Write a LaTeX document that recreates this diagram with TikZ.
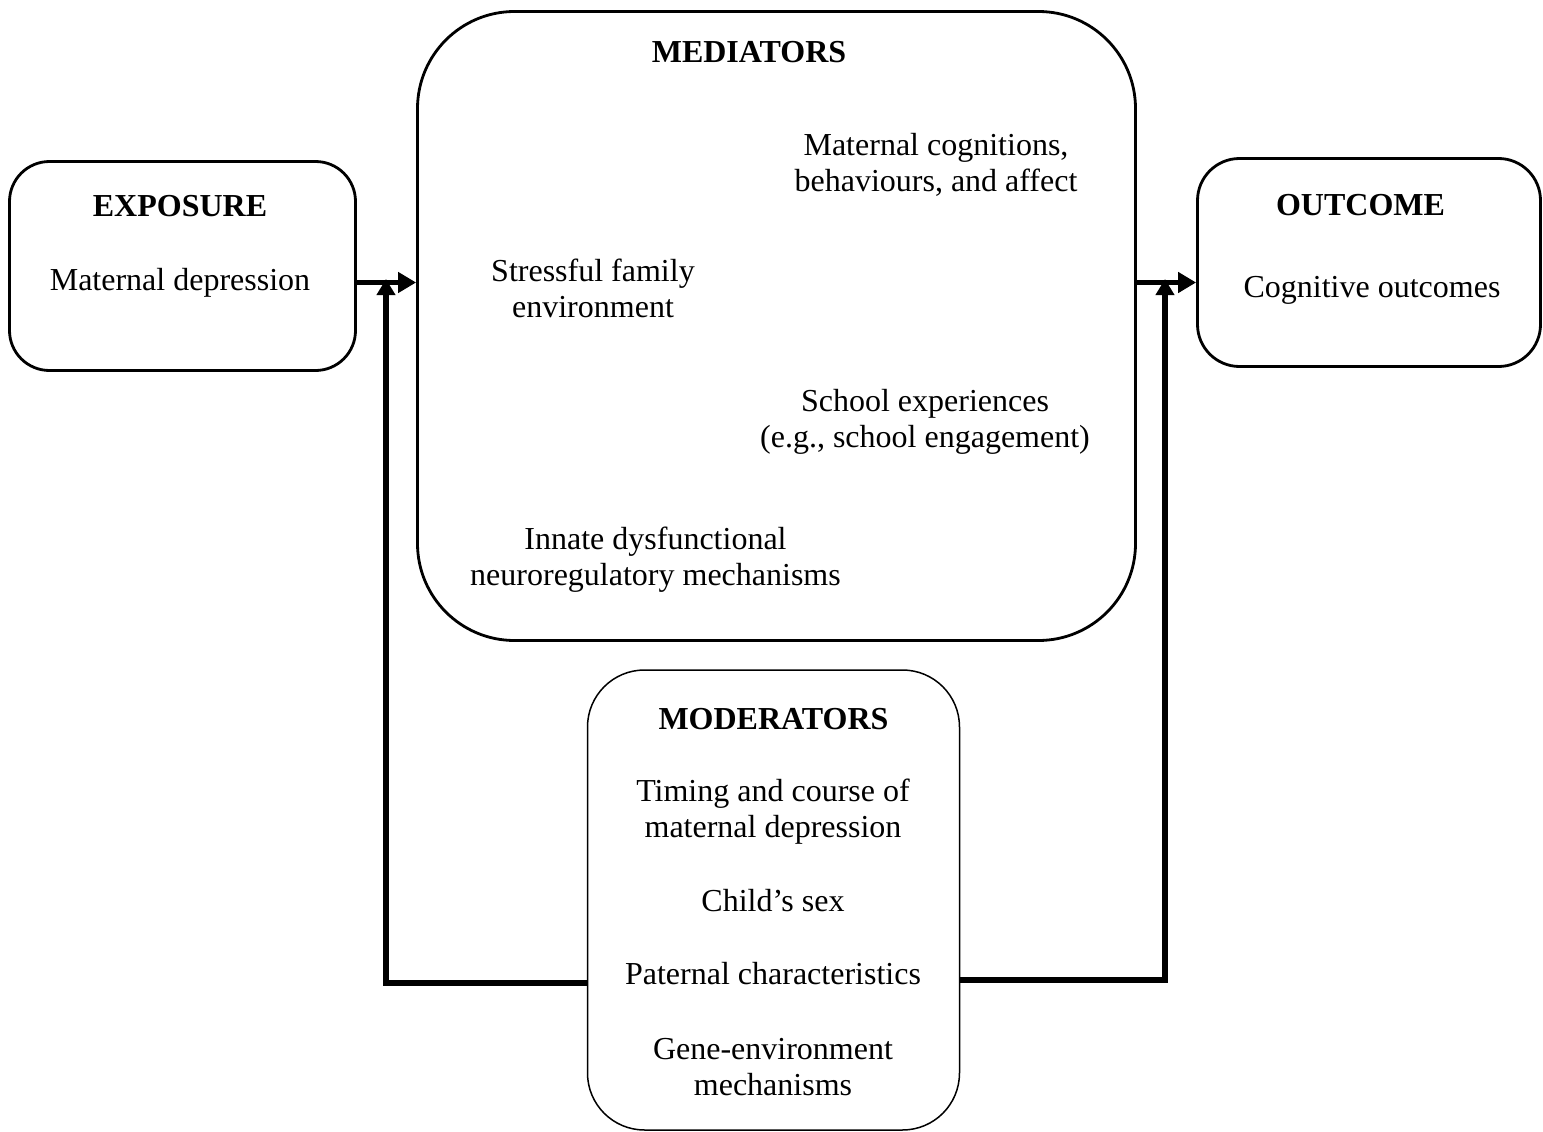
\documentclass[tikz,border=0pt]{standalone}
\usepackage{fontspec}
\setmainfont{Liberation Serif}
\usetikzlibrary{arrows.meta}
\tikzset{
  box/.style={draw, rectangle, inner sep=0pt, line width=2.8pt},
  lbl/.style={anchor=base, inner sep=0pt, font=\fontsize{32}{36}\selectfont},
  head/.style={lbl, font=\fontsize{32}{36}\selectfont\bfseries},
  conn/.style={line width=5.5pt},
  hat/.style={-{Triangle[length=18pt,width=20pt]}},
  vat/.style={-{Triangle[length=16pt,width=18pt]}}
}
\begin{document}
\begin{tikzpicture}[x=1pt,y=-1pt]
\useasboundingbox (0,0) rectangle (1543,1132);
% boxes
\node[box, rounded corners=40pt, minimum width=346pt, minimum height=209pt] (exposure) at (182.5,266) {};
\node[box, rounded corners=97pt, minimum width=718pt, minimum height=629pt] (mediators) at (776.5,326) {};
\node[box, rounded corners=42pt, minimum width=343pt, minimum height=208pt] (outcome) at (1369,262.5) {};
\node[box, line width=1.5pt, rounded corners=57pt, minimum width=372pt, minimum height=460pt] (moderators) at (773.5,900) {};
% texts
\node[head] (expT) at (180,216) {EXPOSURE};
\node[lbl] (expA) at (180,290) {Maternal depression};
\node[head] (outT) at (1360.5,215) {OUTCOME};
\node[lbl] (outA) at (1372,297) {Cognitive outcomes};
\node[head] (medT) at (749,63) {MEDIATORS};
\node[lbl] (m1a) at (936,155) {Maternal cognitions,};
\node[lbl] (m1b) at (936,191) {behaviours, and affect};
\node[lbl] (m2a) at (593,281) {Stressful family};
\node[lbl] (m2b) at (593,317) {environment};
\node[lbl] (m3a) at (925,411) {School experiences};
\node[lbl] (m3b) at (925,447) {(e.g., school engagement)};
\node[lbl] (m4a) at (655.5,549) {Innate dysfunctional};
\node[lbl] (m4b) at (655.5,585) {neuroregulatory mechanisms};
\node[head] (modT) at (773.5,729) {MODERATORS};
\node[lbl] (d1a) at (773,801) {Timing and course of};
\node[lbl] (d1b) at (773,837) {maternal depression};
\node[lbl] (d2) at (773,911) {Child’s sex};
\node[lbl] (d3) at (773,984) {Paternal characteristics};
\node[lbl] (d4a) at (773,1059) {Gene-environment};
\node[lbl] (d4b) at (773,1095) {mechanisms};
% connectors
\coordinate (jl) at (386,282.5);
\coordinate (jr) at (1165,282.5);
\coordinate (bl) at (386,983);
\coordinate (br) at (1165,980);
\draw[conn,hat] (exposure.east |- jl) -- (mediators.west |- jl);
\draw[conn,hat] (mediators.east |- jr) -- (outcome.west |- jr);
\draw[conn,vat] (moderators.west |- bl) -| ([yshift=3.5pt]jl);
\draw[conn,vat] (moderators.east |- br) -| ([yshift=3.5pt]jr);
\end{tikzpicture}
\end{document}
